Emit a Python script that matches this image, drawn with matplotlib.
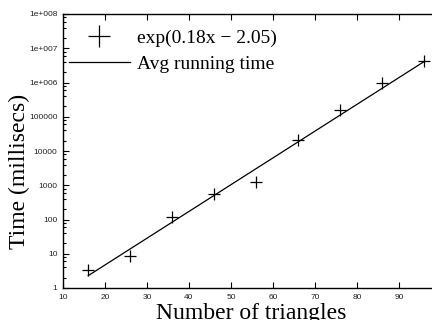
import matplotlib
matplotlib.use('Agg')
import matplotlib.pyplot as plt
from matplotlib.ticker import FixedLocator, FixedFormatter, LogLocator, NullFormatter

# measured running times (ms) and the exponential fit
triangles = [16, 26, 36, 46, 56, 66, 76, 86, 96]
times_ms = [3.4, 8.6, 118, 570, 1240, 20500, 162000, 1.0e6, 4.2e6]
fit_x = [16, 96]
fit_y = [2.29, 4.1e6]

ytick_vals = [1, 10, 100, 1000, 10000, 100000, 1e6, 1e7, 1e8]
ytick_labels = ['1', '10', '100', '1000', '10000', '100000', '1e+006', '1e+007', '1e+008']
xtick_vals = [10, 20, 30, 40, 50, 60, 70, 80, 90, 100]

serif = ['Liberation Serif', 'DejaVu Serif']
sans = ['Liberation Sans', 'DejaVu Sans']

fig = plt.figure(figsize=(4.32, 3.2), dpi=100)
ax = fig.add_axes([63 / 432, 32 / 320, 378 / 432, 274 / 320])

ax.plot(triangles, times_ms, '+', color='black', markersize=8, mew=0.9,
        label='exp(0.18x \u2212 2.05)')
ax.plot(fit_x, fit_y, '-', color='black', lw=0.9, label='Avg running time')

ax.set_yscale('log')
ax.set_xlim(10, 100)
ax.set_ylim(1, 1e8)

ax.yaxis.set_major_locator(FixedLocator(ytick_vals))
ax.yaxis.set_major_formatter(FixedFormatter(ytick_labels))
ax.yaxis.set_minor_locator(LogLocator(base=10, subs=[2, 4, 6, 8], numticks=20))
ax.yaxis.set_minor_formatter(NullFormatter())
ax.xaxis.set_major_locator(FixedLocator(xtick_vals))

ax.tick_params(which='both', direction='in', top=True, right=False, width=0.8,
               labelsize=6.0, pad=4)
ax.tick_params(which='major', length=4)
ax.tick_params(which='minor', length=2)
for lab in ax.get_xticklabels() + ax.get_yticklabels():
    lab.set_family(sans)
    lab.set_color('#222222')
ax.spines['right'].set_visible(False)
for s in ['left', 'bottom', 'top']:
    ax.spines[s].set_linewidth(1.0)

leg = ax.legend(loc='upper left', bbox_to_anchor=(0.0, 0.967), frameon=False,
                prop={'family': serif, 'size': 14},
                handlelength=3.15, handletextpad=0.35, markerscale=1.9,
                labelspacing=0.46, borderaxespad=0.0, borderpad=0.3)

fig.text(251 / 432, 1 - 313 / 320, 'Number of triangles', family=serif, fontsize=17,
         ha='center', va='center')
fig.text(19 / 432, 1 - 171 / 320, 'Time (millisecs)', family=serif, fontsize=17,
         ha='center', va='center', rotation=90)

fig.savefig('out.png', dpi=100)
